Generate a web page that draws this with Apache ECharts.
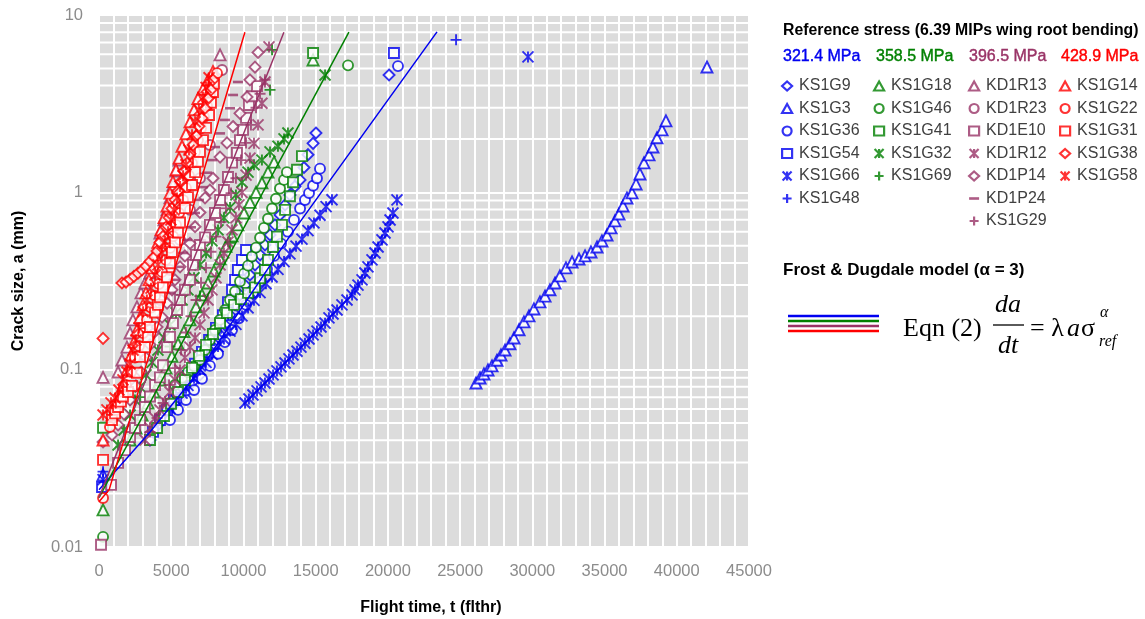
<!DOCTYPE html>
<html><head><meta charset="utf-8">
<script src="https://cdn.jsdelivr.net/npm/echarts@6/dist/echarts.min.js"></script>
<style>html,body{margin:0;padding:0;background:#fff}#c{width:1145px;height:619px}</style>
</head><body><div id="c"></div>
<script>
// ---------------- DATA (flight time t [flthr], crack size a [mm]) ----------------
// 321.4 MPa
const KS1G9 = [[3530,0.0401],[4080,0.0488],[4570,0.0567],[5050,0.0616],[5470,0.0675],[5950,0.0739],[6440,0.0845],[6990,0.0934],[7340,0.106],[7680,0.121],[8030,0.138],[8380,0.157],[8720,0.179],[9070,0.203],[9420,0.232],[9760,0.264],[10110,0.300],[10450,0.342],[10800,0.390],[11150,0.444],[11490,0.505],[11840,0.575],[12180,0.655],[12530,0.746],[12880,0.849],[13220,0.967],[13570,1.08],[13920,1.175],[14190,1.38],[14470,1.63],[14820,1.89],[15020,2.16],[20080,4.59]];
const KS1G3 = [[280,0.0255],[26100,0.0841],[26380,0.0898],[26650,0.0946],[26930,0.0996],[27210,0.105],[27550,0.113],[27830,0.121],[28110,0.129],[28450,0.140],[28730,0.151],[29080,0.168],[29420,0.186],[29770,0.201],[30110,0.220],[30530,0.241],[30880,0.260],[31220,0.282],[31570,0.308],[31910,0.338],[32330,0.375],[32750,0.405],[33230,0.421],[33650,0.438],[34060,0.461],[34480,0.492],[34820,0.532],[35170,0.575],[35450,0.630],[35720,0.690],[36000,0.755],[36280,0.838],[36550,0.929],[36900,0.993],[37180,1.115],[37450,1.27],[37730,1.465],[38080,1.626],[38350,1.80],[38630,2.03],[38980,2.25],[39250,2.53],[42090,5.09]];
const KS1G36 = [[4915,0.052],[5470,0.0593],[6020,0.0675],[6580,0.0768],[7130,0.0888],[7680,0.105],[8240,0.123],[8720,0.143],[9210,0.1675],[9690,0.195],[10180,0.232],[10660,0.271],[11150,0.315],[11630,0.370],[12120,0.438],[12600,0.514],[13080,0.600],[13500,0.699],[13920,0.81],[14260,0.906],[14540,0.99],[14820,1.09],[15090,1.20],[15300,1.36],[20700,5.15]];
const KS1G54 = [[210,0.0218],[3740,0.0446],[4220,0.052],[4710,0.0593],[5190,0.0675],[5680,0.0790],[6160,0.0923],[6650,0.108],[7130,0.126],[7620,0.147],[8100,0.172],[8580,0.203],[8930,0.240],[9210,0.282],[9420,0.321],[9620,0.365],[9900,0.416],[10180,0.473],[20420,6.1]];
const KS1G66 = [[280,0.024],
 [4915,0.0604],[5330,0.0672],[5750,0.0738],[6160,0.0816],[6580,0.0895],[6990,0.0997],[7410,0.110],[7820,0.122],[8240,0.135],[8650,0.149],[9070,0.165],[9480,0.180],[9900,0.201],[10320,0.223],[10730,0.246],[11150,0.272],[11560,0.305],[11980,0.333],[12390,0.368],[12810,0.407],[13220,0.450],[13640,0.497],[14050,0.545],[14470,0.608],[14880,0.672],[15300,0.743],[15720,0.830],[16130,0.908],
 [10110,0.0649],[10380,0.0683],[10660,0.0720],[10940,0.0759],[11220,0.0799],[11490,0.0841],[11770,0.0886],[12050,0.0934],[12320,0.0984],[12600,0.1036],[12880,0.109],[13150,0.115],[13430,0.121],[13710,0.127],[13980,0.134],[14260,0.141],[14540,0.149],[14820,0.157],[15090,0.165],[15370,0.174],[15650,0.183],[15920,0.196],[16200,0.206],[16480,0.217],[16820,0.232],[17170,0.247],[17520,0.264],[17720,0.282],[17930,0.300],[18210,0.321],[18410,0.351],[18620,0.380],[18900,0.416],[19110,0.455],[19320,0.492],[19590,0.539],[19800,0.590],[20010,0.638],[20150,0.698],[20350,0.765],[20630,0.906],
 [29700,5.80]];
const KS1G48 = [[280,0.0266],[24720,7.24]];
// 358.5 MPa
const KS1G18 = [[280,0.0162],[2150,0.0401],[2560,0.0469],[2980,0.0555],[3390,0.0648],[3810,0.0748],[4220,0.0875],[4640,0.102],[5050,0.119],[5470,0.140],[5880,0.164],[6300,0.191],[6720,0.226],[7130,0.264],[7550,0.308],[7960,0.360],[8380,0.422],[8790,0.497],[9210,0.568],[9620,0.655],[10040,0.765],[10450,0.878],[10870,1.00],[11280,1.13],[11700,1.30],[12120,1.48],[14820,5.58]];
const KS1G46 = [[280,0.0114],[5260,0.0820],[5750,0.0900],[6160,0.0970],[6580,0.1045],[6990,0.1134],[7340,0.129],[7680,0.147],[8030,0.1675],[8380,0.191],[8720,0.217],[9070,0.247],[9420,0.276],[9760,0.314],[10040,0.348],[10320,0.386],[10590,0.435],[10870,0.488],[11150,0.555],[11420,0.63],[11700,0.71],[11980,0.81],[12250,0.92],[12530,1.05],[12810,1.175],[13010,1.30],[17240,5.2]];
const KS1G41 = [[280,0.047],[3530,0.0401],[4020,0.0469],[4500,0.0548],[4985,0.0643],[5470,0.0748],[5950,0.0875],[6440,0.1023],[6920,0.1196],[7410,0.138],[7890,0.159],[8380,0.183],[8860,0.209],[9350,0.232],[9830,0.250],[10320,0.271],[10800,0.291],[11150,0.328],[11490,0.365],[11700,0.416],[12050,0.492],[12320,0.563],[12670,0.655],[12880,0.796],[13220,0.95],[13430,1.14],[13710,1.34],[14050,1.60],[14820,6.1]];
const KS1G32 = [[1320,0.0376],[1730,0.0457],[2150,0.0555],[2490,0.0675],[2840,0.0799],[3250,0.0934],[3670,0.110],[4080,0.129],[4500,0.151],[4915,0.179],[5330,0.209],[5750,0.247],[6160,0.282],[6580,0.330],[6990,0.390],[7410,0.455],[7820,0.532],[8240,0.614],[8650,0.718],[9070,0.822],[9480,0.967],[9900,1.14],[10320,1.30],[10730,1.43],[11280,1.52],[11840,1.69],[12390,1.82],[12810,2.00],[13080,2.16],[15650,4.59]];
const KS1G69 = [[2840,0.070],[4915,0.135],[6990,0.26],[9070,0.52],[11840,3.78],[11980,6.36]];
// 396.5 MPa
const KD1R13 = [[280,0.0905],[1320,0.0970],[1590,0.1134],[1940,0.134],[2150,0.161],[2350,0.191],[2630,0.226],[2910,0.271],[3180,0.308],[3530,0.352],[3880,0.455],[4220,0.590],[4500,0.699],[4710,0.796],[4915,0.93],[5120,1.10],[5330,1.32],[5540,1.52],[8380,5.96]];
const KD1R23 = [[2840,0.121],[3530,0.1675],[4220,0.247],[4915,0.365],[5610,0.539],[6300,0.796],[6990,1.20],[7680,1.85],[8520,4.90]];
const KD1E10 = [[140,0.0103],[830,0.0224],[1320,0.0298],[1800,0.0352],[2150,0.0417],[2490,0.0469],[2840,0.0520],[3180,0.0616],[3530,0.0706],[3880,0.0820],[4220,0.0905],[4430,0.106],[4710,0.134],[4915,0.153],[5120,0.183],[5400,0.217],[5610,0.247],[5950,0.282],[6300,0.321],[6510,0.390],[6720,0.444],[6990,0.505],[7340,0.557],[7680,0.655],[8030,0.765],[8380,0.906],[8650,1.03],[8930,1.22],[9210,1.47],[9550,1.67],[9760,1.97],[9970,2.25],[10180,2.63],[10380,3.11],[10590,3.48],[10940,3.97]];
const KD1R12 = [[3180,0.0401],[3530,0.0469],[3880,0.0533],[4220,0.0593],[4570,0.0660],[4915,0.0748],[5260,0.0875],[5610,0.0996],[5950,0.117],[6300,0.134],[6650,0.151],[6990,0.179],[7270,0.209],[7550,0.247],[7820,0.282],[8100,0.330],[8380,0.390],[8650,0.455],[8930,0.525],[9210,0.614],[9480,0.718],[9690,0.849],[9900,1.00],[10180,1.25],[10450,1.56],[10730,1.89],[11010,2.40],[11280,3.18],[11490,4.19],[11770,6.61]];
const KD1P14 = [[280,0.0391],[900,0.0428],[1320,0.0488],[1730,0.0562],[2150,0.0675],[2560,0.0810],[2910,0.0970],[3250,0.117],[3530,0.138],[3810,0.162],[4020,0.174],[4360,0.198],[4710,0.237],[5050,0.282],[5260,0.321],[5610,0.380],[5950,0.438],[6300,0.515],[6650,0.64],[6990,0.77],[7340,0.93],[7680,1.03],[7890,1.20],[8380,1.58],[8860,1.90],[9280,2.35],[9760,2.79],[10250,3.45],[10450,4.31],[10800,5.08],[11010,6.15]];
const KD1P24 = [[4980,0.271],[5260,0.321],[5540,0.380],[5820,0.455],[6090,0.539],[6370,0.635],[6650,0.765],[6920,0.906],[7200,1.07],[7480,1.29],[7820,1.52],[8030,1.80],[8380,2.15],[8720,2.56],[9070,2.98],[9280,3.54],[9620,4.19]];
const KS1G29 = [[3530,0.0446],[4020,0.0534],[4430,0.0649],[4850,0.0820],[5260,0.102],[5680,0.129],[6020,0.162],[6370,0.200],[6720,0.247],[7060,0.309],[7410,0.375],[7750,0.462],[8100,0.563],[8450,0.680],[8790,0.812],[9140,0.99],[9480,1.20],[9830,1.52],[10180,1.90],[10520,2.40],[10870,3.00],[11150,3.60],[11490,4.31]];
// 428.9 MPa
const KS1G14 = [[280,0.0401],[900,0.0555],[1320,0.0675],[1660,0.082],[1940,0.0996],[2220,0.121],[2420,0.143],[2630,0.1675],[2840,0.197],[3050,0.232],[3250,0.271],[3460,0.321],[3670,0.375],[3880,0.444],[4080,0.522],[4290,0.614],[4500,0.72],[4710,0.837],[4915,0.99],[5120,1.15],[5330,1.34],[5540,1.56],[5750,1.82],[6020,2.14],[6300,2.50],[6580,2.92],[6850,3.38],[7200,3.82],[7550,4.31],[7890,4.80]];
const KS1G22 = [[280,0.0189],[760,0.0475],[1180,0.0593],[1520,0.0692],[1870,0.0820],[2220,0.0970],[2490,0.117],[2770,0.136],[3050,0.161],[3320,0.191],[3600,0.224],[3880,0.261],[4150,0.304],[4360,0.356],[4640,0.416],[4915,0.486],[5120,0.565],[5330,0.655],[5540,0.765],[5820,0.906],[6020,1.06],[6230,1.24],[6440,1.46],[6650,1.69],[6850,1.97],[7060,2.30],[7270,2.66],[7480,3.07],[7680,3.54],[7890,4.08],[8170,4.70]];
const KS1G31 = [[280,0.0310],[900,0.052],[1110,0.0567],[1320,0.0616],[1520,0.066],[1660,0.0706],[2010,0.0748],[2280,0.081],[2630,0.096],[2840,0.118],[3180,0.134],[3390,0.153],[3530,0.174],[3880,0.210],[4080,0.232],[4220,0.256],[4430,0.291],[4710,0.332],[4915,0.398],[5050,0.461],[5260,0.522],[5470,0.594],[5610,0.676],[5950,0.815],[6160,0.94],[6440,1.10],[6650,1.30],[6850,1.49],[6990,1.69],[7200,1.97],[7410,2.31],[7620,2.73],[7750,3.20],[7890,3.68],[7960,4.10]];
const KS1G38 = [[280,0.150],[1590,0.308],[1870,0.312],[2150,0.323],[2420,0.336],[2700,0.350],[2980,0.365],[3250,0.384],[3530,0.408],[3810,0.432],[4020,0.467],[4220,0.522],[4430,0.565],[4640,0.636],[4850,0.72],[5050,0.81],[5260,0.906],[5470,1.02],[5680,1.15],[5880,1.32],[6090,1.46],[6300,1.65],[6510,1.85],[6720,2.08],[6920,2.36],[7130,2.62],[7340,2.98],[7550,3.38],[7750,3.78],[7890,4.31]];
const KS1G58 = [[280,0.0555],[550,0.0593],[830,0.0650],[1110,0.0692],[1380,0.0768],[1660,0.0875],[1940,0.0970],[2150,0.1077],[2350,0.129],[2560,0.147],[2770,0.172],[3050,0.212],[3320,0.247],[3600,0.288],[3880,0.342],[4080,0.390],[4360,0.455],[4570,0.528],[4780,0.600],[4980,0.699],[5190,0.796],[5400,0.93],[5610,1.08],[5820,1.24],[6020,1.43],[6230,1.73],[6440,2.11],[6650,2.50],[6920,2.92],[7200,3.43],[7410,3.90],[7620,4.43]];
// Frost & Dugdale model curves
const model3214 = [[0,0.021],[3530,0.0445],[6990,0.0996],[13220,0.568],[23400,8.03]];
const model3585 = [[0,0.019],[17300,8.0]];
const model3965 = [[0,0.019],[12800,8.0]];
const model4289 = [[0,0.018],[700,0.021],[10100,8.0]];
// groups / names / tick labels
const stressLabels = ['321.4 MPa','358.5 MPa','396.5 MPa','428.9 MPa'];
const blueNames = ['KS1G9','KS1G3','KS1G36','KS1G54','KS1G66','KS1G48'];
const greenNames = ['KS1G18','KS1G46','KS1G41','KS1G32','KS1G69'];
const purpleNames = ['KD1R13','KD1R23','KD1E10','KD1R12','KD1P14','KD1P24','KS1G29'];
const redNames = ['KS1G14','KS1G22','KS1G31','KS1G38','KS1G58'];
const yMinorGrid = [0.02,0.03,0.04,0.05,0.06,0.07,0.08,0.09,0.2,0.3,0.4,0.5,0.6,0.7,0.8,0.9,2,3,4,5,6,7,8,9];

// ---------------- STYLE ----------------
const BLUE='#0000f0', GREEN='#008000', PURPLE='#993366', RED='#ff0000';
const STAR='path://M0,0L10,10M10,0L0,10M5,0L5,10';
const PLUS='path://M5,0L5,10M0,5L10,5';
const DASH='path://M0,0L10,0L10,2.6L0,2.6Z';
const SHAPE = {diamond:['diamond',11], triangle:['triangle',11], circle:['circle',10], square:['rect',10], star:[STAR,11], plus:[PLUS,11], dash:[DASH,10]};
const DATA = {KS1G9,KS1G3,KS1G36,KS1G54,KS1G66,KS1G48,KS1G18,KS1G46,KS1G41,KS1G32,KS1G69,KD1R13,KD1R23,KD1E10,KD1R12,KD1P14,KD1P24,KS1G29,KS1G14,KS1G22,KS1G31,KS1G38,KS1G58};
const groups = [
  {names: blueNames, shapes:['diamond','triangle','circle','square','star','plus'], color: BLUE, left: 781, hx: 783, model: model3214},
  {names: greenNames, shapes:['triangle','circle','square','star','plus'], color: GREEN, left: 873, hx: 876, model: model3585},
  {names: purpleNames, shapes:['triangle','circle','square','star','diamond','dash','plus'], color: PURPLE, left: 968, hx: 969, model: model3965},
  {names: redNames, shapes:['triangle','circle','square','diamond','star'], color: RED, left: 1059, hx: 1061, model: model4289}
];
const SANS = '"Liberation Sans", Arial, Helvetica, sans-serif';
const SERIF = '"Liberation Serif", "Times New Roman", serif';

function styleFor(shape, color, w){
  if (shape === 'dash') return {color: color, borderColor: color, borderWidth: 0};
  return {color: '#ffffff', borderColor: color, borderWidth: w};
}

const series = [];
yMinorGrid.forEach(v => series.push({
  type:'line', silent:true, z:1, symbol:'none', animation:false,
  data:[[0,v],[45000,v]], lineStyle:{color:'#ffffff', width:2}
}));
const legends = [];
groups.forEach((g) => {
  g.names.forEach((n, i) => {
    const sh = SHAPE[g.shapes[i]];
    series.push({
      name: n, type:'scatter', data: DATA[n], symbol: sh[0], symbolSize: sh[1], symbolKeepAspect: true,
      itemStyle: styleFor(g.shapes[i], g.color, 1.9), z: 3
    });
  });
  legends.push({
    orient:'vertical', left: g.left, top: 78, padding: 0, itemGap: 6.5, itemWidth: 10, itemHeight: 9,
    selectedMode: false,
    textStyle:{fontFamily: SANS, fontSize: 16, color:'#404040', lineHeight: 16, padding:[0,0,0,2]},
    data: g.names.map((n,i) => ({name: n, icon: SHAPE[g.shapes[i]][0], itemStyle: styleFor(g.shapes[i], g.color, 2.2)}))
  });
});
groups.forEach((g, k) => series.push({
  name: 'model ' + stressLabels[k], type:'line', data: g.model, symbol:'none', z: 4, silent: true,
  lineStyle:{color: g.color, width: 1.5}
}));

const graphics = [
  {type:'text', style:{text:'Reference stress (6.39 MIPs wing root bending)', x:783, y:31, font:'bold 15.8px '+SANS, fill:'#000', align:'left', verticalAlign:'middle', textAlign:'left', textVerticalAlign:'middle'}},
  {type:'text', style:{text:'Frost & Dugdale model (\u03b1 = 3)', x:783, y:270, font:'bold 17px '+SANS, fill:'#000', align:'left', verticalAlign:'middle', textAlign:'left', textVerticalAlign:'middle'}}
];
groups.forEach((g,k) => graphics.push({type:'text', style:{text: stressLabels[k], x: g.hx, y: 57, font:'16px '+SANS, fill: g.color, stroke: g.color, lineWidth: 0.4, align:'left', verticalAlign:'middle', textAlign:'left', textVerticalAlign:'middle'}}));
[[BLUE,316],[GREEN,321],[PURPLE,326],[RED,331]].forEach(c => graphics.push({type:'line', shape:{x1:788,y1:c[1],x2:879,y2:c[1]}, style:{stroke:c[0], lineWidth:2.4}}));
const eq = (text, x, y, font, align) => ({type:'text', style:{text, x, y, font, fill:'#000', align: align||'left', verticalAlign:'middle', textAlign: align||'left', textVerticalAlign:'middle'}});
graphics.push(eq('Eqn (2)', 903, 329, '26px '+SERIF));
graphics.push(eq('da', 1008, 305, 'italic 26px '+SERIF, 'center'));
graphics.push({type:'line', shape:{x1:993,y1:325,x2:1024,y2:325}, style:{stroke:'#000', lineWidth:1.3}});
graphics.push(eq('dt', 1008, 346, 'italic 26px '+SERIF, 'center'));
graphics.push(eq('= \u03bb', 1030, 329, '26px '+SERIF));
graphics.push(eq('a', 1067, 329, 'italic 26px '+SERIF));
graphics.push(eq('\u03c3', 1081, 329, '26px '+SERIF));
graphics.push(eq('\u03b1', 1100, 313, 'italic 16px '+SERIF));
graphics.push(eq('ref', 1099, 342, 'italic 16px '+SERIF));

const option = {
  animation: false,
  backgroundColor: '#ffffff',
  grid: {left: 99, top: 15, width: 650, height: 532, show: true, backgroundColor: '#dcdcdc', borderWidth: 0, outerBoundsMode: 'none', containLabel: false},
  xAxis: {
    type:'value', min:0, max:45000, interval:5000,
    axisLine:{show:false}, axisTick:{show:false},
    axisLabel:{color:'#8c8c8c', fontSize:16.5, fontFamily:SANS, margin:16, formatter: v => String(v)},
    splitLine:{show:true, lineStyle:{color:'#ffffff', width:2}},
    minorTick:{show:false, splitNumber:5},
    minorSplitLine:{show:true, lineStyle:{color:'#ffffff', width:2}},
    name:'Flight time, t (flthr)', nameLocation:'middle', nameGap:53,
    nameTextStyle:{fontFamily:SANS, fontSize:16, fontWeight:'bold', color:'#000', padding:[0,0,0,14]}
  },
  yAxis: {
    type:'log', logBase:10, min:0.01, max:10,
    axisLine:{show:false}, axisTick:{show:false},
    axisLabel:{color:'#8c8c8c', fontSize:16.5, fontFamily:SANS, margin:16},
    splitLine:{show:true, lineStyle:{color:'#ffffff', width:2}},
    name:'Crack size, a (mm)', nameLocation:'middle', nameGap:72,
    nameTextStyle:{fontFamily:SANS, fontSize:16, fontWeight:'bold', color:'#000'}
  },
  legend: legends,
  graphic: graphics,
  series: series
};
const chart = echarts.init(document.getElementById('c'), null, {renderer:'canvas'});
chart.setOption(option);
</script></body></html>
